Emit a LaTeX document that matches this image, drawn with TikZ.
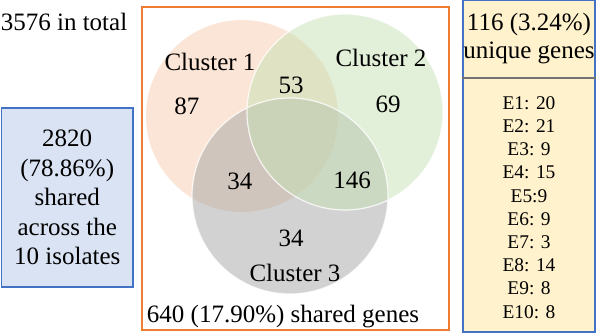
\documentclass[tikz,border=0pt]{standalone}
\usepackage{fontspec}
\setmainfont{Liberation Serif}
\usetikzlibrary{positioning}
\definecolor{clusterA}{HTML}{F8CBAD}
\definecolor{clusterB}{HTML}{C5E0B4}
\definecolor{clusterC}{HTML}{A6A6A6}
\definecolor{boxblue}{HTML}{DAE3F3}
\definecolor{lineblue}{HTML}{4472C4}
\definecolor{boxyellow}{HTML}{FFF2CC}
\definecolor{lineorange}{HTML}{ED7D31}

\tikzset{
  lbl/.style={font=\fontsize{12.5}{14.75}\selectfont, inner sep=0pt, align=center},
  item/.style={font=\fontsize{9.7}{11}\selectfont, inner sep=0pt},
  venn/.style={fill opacity=0.5},
}

\begin{document}
\begin{tikzpicture}[x=0.5pt,y=-0.5pt]
  \useasboundingbox (0,0) rectangle (596,334);
  % boxes
  \node[draw=lineblue, fill=boxblue, line width=0.6pt, minimum width=65.75pt,
    minimum height=89.5pt, lbl] (core) at (67.25,197.5)
    {2820\\(78.86\%)\\shared\\across the\\10 isolates};
  \node[draw=lineorange, line width=0.6pt, minimum width=153.5pt,
    minimum height=161.5pt] (shared) at (295.5,168.5) {};
  \node[draw=lineblue, fill=boxyellow, line width=0.6pt, minimum width=66pt,
    minimum height=165.75pt] (uniq) at (529,166.25) {};
  \coordinate (cut) at (0,78);
  \draw[gray!90!black, line width=0.8pt] (uniq.west |- cut) -- (uniq.east |- cut);

  % venn circles
  \fill[venn, fill=clusterA] (242,116) circle (48pt);
  \fill[venn, fill=clusterC] (290,196) circle (49pt);
  \fill[venn, fill=clusterB] (345,112) circle (49pt);
  \draw[white, opacity=0.8, line width=0.6pt] (290,196) circle (49pt)
    (345,112) circle (49pt);

  % labels
  \node[lbl] (total) at (64,22) {3576 in total};
  \node[lbl] (c1) at (210,62) {Cluster 1};
  \node[lbl] (c2) at (381,58) {Cluster 2};
  \node[lbl] (c3) at (295,273) {Cluster 3};
  \node[lbl] (n1) at (187,106) {87};
  \node[lbl] (n12) at (291,85) {53};
  \node[lbl] (n2) at (388,104) {69};
  \node[lbl] (n13) at (240,181) {34};
  \node[lbl] (n23) at (352,180) {146};
  \node[lbl] (n3) at (291,238) {34};
  \node[lbl] (sharedlbl) at (283,317) {640 (17.90\%) shared genes};
  \node[lbl, font=\fontsize{12.5}{14}\selectfont] (head) at (529,39)
    {116 (3.24\%)\\unique genes};
  \foreach \t [count=\i] in {E1: 20,E2: 21,E3: 9,E4: 15,E5:9,E6: 9,E7: 3,E8: 14,E9: 8,E10: 8}
    \node[item] (e\i) at (529,{103+23.2*(\i-1)}) {\t};
\end{tikzpicture}
\end{document}
